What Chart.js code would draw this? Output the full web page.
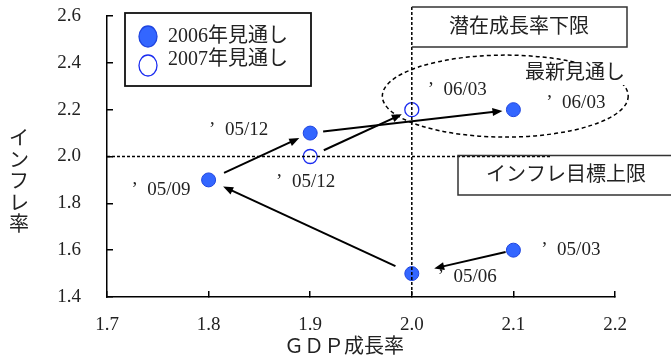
<!DOCTYPE html>
<html>
<head>
<meta charset="utf-8">
<script src="https://cdn.jsdelivr.net/npm/chart.js@4/dist/chart.umd.min.js"></script>
<style>
  html, body { margin: 0; padding: 0; background: #fff; }
  canvas { display: block; }
</style>
</head>
<body>
<canvas id="c" width="671" height="360"></canvas>
<script>
// ---- data ----
const seriesNames = ['2006年見通し', '2007年見通し'];
const gdp2006 = [2.1, 2.0, 1.8, 1.9, 2.1];
const cpi2006 = [1.6, 1.5, 1.9, 2.1, 2.2];
const dates2006 = ['05/03', '05/06', '05/09', '05/12', '06/03'];
const gdp2007 = [1.9, 2.0];
const cpi2007 = [2.0, 2.2];
const dates2007 = ['05/12', '06/03'];
const xTicks = [1.7, 1.8, 1.9, 2.0, 2.1, 2.2];
const yTicks = [1.4, 1.6, 1.8, 2.0, 2.2, 2.4, 2.6];
const gdpFloor = 2.0;      // 潜在成長率下限
const inflationCap = 2.0;  // インフレ目標上限
const xTitle = 'ＧＤＰ成長率';
const yTitle = 'インフレ率';
const noteFloor = '潜在成長率下限';
const noteCap = 'インフレ目標上限';
const noteLatest = '最新見通し';

// ---- styling ----
const FONT = '"Liberation Serif", "Noto Sans CJK JP", serif';
const TEXT = '#222';
const FILL_BLUE = '#3366ff';
const EDGE_BLUE = '#1f45e0';
const HOLLOW_BLUE = '#1a2cf0';
// date label placement: [right edge dx, centre dy] from each point, px
const labelPos2006 = [[87, 0], [85, 3], [-18, 10], [-42, -3], [92, -7]];
const labelPos2007 = [[25, 26], [75, -20]];
// arrow gaps from the start / end point centres, px
const arrowGap2006 = [[8, 23], [18, 16], [17, 12], [13, 11]];
const arrowGap2007 = [[15, 11]];
// ring around the latest forecasts (data units)
const latestRing = { cx: 2.092, cy: 2.258, rx: 0.121, ry: 0.175 };

const toPoints = (xs, ys) => xs.map((v, i) => ({ x: v, y: ys[i] }));

function arrow(ctx, x0, y0, x1, y1, g0, g1) {
  const dx = x1 - x0, dy = y1 - y0, d = Math.hypot(dx, dy);
  const ux = dx / d, uy = dy / d;
  const sx = x0 + ux * g0, sy = y0 + uy * g0;
  const ex = x1 - ux * g1, ey = y1 - uy * g1;
  const hl = 10, hw = 4;
  ctx.beginPath();
  ctx.moveTo(sx, sy);
  ctx.lineTo(ex - ux * hl * 0.8, ey - uy * hl * 0.8);
  ctx.stroke();
  ctx.beginPath();
  ctx.moveTo(ex, ey);
  ctx.lineTo(ex - ux * hl - uy * hw, ey - uy * hl + ux * hw);
  ctx.lineTo(ex - ux * hl + uy * hw, ey - uy * hl - ux * hw);
  ctx.closePath();
  ctx.fill();
}

const overlay = {
  id: 'overlay',
  afterDatasetsDraw(chart) {
    const { ctx, chartArea: a, scales: { x, y } } = chart;
    ctx.save();

    // reference lines
    ctx.strokeStyle = '#000';
    ctx.lineWidth = 1.5;
    ctx.setLineDash([3, 2]);
    const vx = x.getPixelForValue(gdpFloor);
    const hy = y.getPixelForValue(inflationCap);
    ctx.beginPath();
    ctx.moveTo(vx, 7); ctx.lineTo(vx, a.bottom);
    ctx.moveTo(a.left, hy); ctx.lineTo(550, hy);
    ctx.stroke();

    // ring around the latest forecasts
    ctx.setLineDash([4, 3]);
    ctx.beginPath();
    const ecx = x.getPixelForValue(latestRing.cx);
    const ecy = y.getPixelForValue(latestRing.cy);
    const erx = x.getPixelForValue(latestRing.cx + latestRing.rx) - ecx;
    const ery = ecy - y.getPixelForValue(latestRing.cy + latestRing.ry);
    ctx.ellipse(ecx, ecy, erx, ery, 0, 0, Math.PI * 2);
    ctx.stroke();
    ctx.setLineDash([]);

    // boxes
    ctx.strokeStyle = '#333';
    ctx.lineWidth = 1.5;
    ctx.beginPath();
    ctx.moveTo(vx, 7); ctx.lineTo(627, 7); ctx.lineTo(627, 47); ctx.lineTo(vx, 47);
    ctx.stroke();
    ctx.beginPath();
    ctx.moveTo(680, hy - 1); ctx.lineTo(458, hy - 1); ctx.lineTo(458, 195); ctx.lineTo(680, 195);
    ctx.stroke();

    ctx.font = '20px ' + FONT;
    ctx.fillStyle = TEXT;
    ctx.textBaseline = 'middle';
    ctx.textAlign = 'center';
    ctx.fillText(noteFloor, 519, 28);
    ctx.fillText(noteCap, 566, 176);

    // latest-forecast note on a white patch
    ctx.textAlign = 'left';
    const lw = ctx.measureText(noteLatest).width;
    ctx.fillStyle = '#fff';
    ctx.fillRect(523, 63, lw + 4, 22);
    ctx.fillStyle = TEXT;
    ctx.fillText(noteLatest, 525, 74);

    // arrows
    ctx.strokeStyle = '#000';
    ctx.fillStyle = '#000';
    ctx.lineWidth = 2;
    const drawPath = (xs, ys, gaps) => {
      for (let i = 0; i < xs.length - 1; i++) {
        arrow(ctx,
          x.getPixelForValue(xs[i]), y.getPixelForValue(ys[i]),
          x.getPixelForValue(xs[i + 1]), y.getPixelForValue(ys[i + 1]),
          gaps[i][0], gaps[i][1]);
      }
    };
    drawPath(gdp2006, cpi2006, arrowGap2006);
    drawPath(gdp2007, cpi2007, arrowGap2007);

    // date labels
    ctx.font = '19px ' + FONT;
    ctx.fillStyle = TEXT;
    ctx.textAlign = 'right';
    const drawDates = (xs, ys, dates, pos) => {
      dates.forEach((d, i) => {
        ctx.fillText('’  ' + d,
          x.getPixelForValue(xs[i]) + pos[i][0],
          y.getPixelForValue(ys[i]) + pos[i][1]);
      });
    };
    drawDates(gdp2006, cpi2006, dates2006, labelPos2006);
    drawDates(gdp2007, cpi2007, dates2007, labelPos2007);

    // legend
    ctx.strokeStyle = '#111';
    ctx.lineWidth = 1.8;
    ctx.strokeRect(125, 13, 186, 73);
    const ds = chart.data.datasets;
    ctx.lineWidth = 1.3;
    ctx.beginPath();
    ctx.ellipse(148, 36.5, 9, 10.5, 0, 0, Math.PI * 2);
    ctx.fillStyle = ds[0].backgroundColor;
    ctx.fill();
    ctx.strokeStyle = ds[0].borderColor;
    ctx.stroke();
    ctx.beginPath();
    ctx.ellipse(148, 65.5, 9, 10.5, 0, 0, Math.PI * 2);
    ctx.fillStyle = ds[1].backgroundColor;
    ctx.fill();
    ctx.strokeStyle = ds[1].borderColor;
    ctx.stroke();
    ctx.font = '20px ' + FONT;
    ctx.fillStyle = TEXT;
    ctx.textAlign = 'left';
    ctx.fillText(ds[0].label, 168, 37);
    ctx.fillText(ds[1].label, 168, 60);

    // axis titles
    ctx.textAlign = 'center';
    ctx.fillText(xTitle, 344, 348);
    [...yTitle].forEach((ch, i) => ctx.fillText(ch, 19, 140 + i * 21.5));

    ctx.restore();
  }
};

const axisCommon = {
  type: 'linear',
  grid: { drawOnChartArea: false, drawTicks: true, tickLength: -6, color: '#000', lineWidth: 1.5 },
  border: { display: true, color: '#000', width: 1.5 },
};

new Chart(document.getElementById('c'), {
  type: 'scatter',
  data: {
    datasets: [
      {
        label: seriesNames[0],
        data: toPoints(gdp2006, cpi2006),
        backgroundColor: FILL_BLUE,
        borderColor: EDGE_BLUE,
        borderWidth: 1,
        pointRadius: 7,
        pointHoverRadius: 7,
      },
      {
        label: seriesNames[1],
        data: toPoints(gdp2007, cpi2007),
        backgroundColor: '#ffffff',
        borderColor: HOLLOW_BLUE,
        borderWidth: 1.3,
        pointRadius: 7,
        pointHoverRadius: 7,
      },
    ],
  },
  options: {
    responsive: false,
    animation: false,
    devicePixelRatio: 1,
    layout: { padding: { left: 0, right: 56, top: 16, bottom: 0 } },
    plugins: { legend: { display: false }, tooltip: { enabled: false } },
    scales: {
      x: {
        ...axisCommon,
        min: 1.7, max: 2.2,
        afterBuildTicks: s => { s.ticks = xTicks.map(v => ({ value: v })); },
        afterFit: s => { s.height = 63; s.paddingLeft = 0; s.paddingRight = 0; },
        ticks: {
          padding: 23,
          font: { family: FONT, size: 19 },
          color: TEXT,
          callback: v => Number(v).toFixed(1),
        },
      },
      y: {
        ...axisCommon,
        min: 1.4, max: 2.6,
        afterBuildTicks: s => { s.ticks = yTicks.map(v => ({ value: v })); },
        afterFit: s => { s.width = 107; s.paddingTop = 0; s.paddingBottom = 0; },
        ticks: {
          padding: 32,
          font: { family: FONT, size: 19 },
          color: TEXT,
          callback: v => Number(v).toFixed(1),
        },
      },
    },
  },
  plugins: [overlay],
});
</script>
</body>
</html>
